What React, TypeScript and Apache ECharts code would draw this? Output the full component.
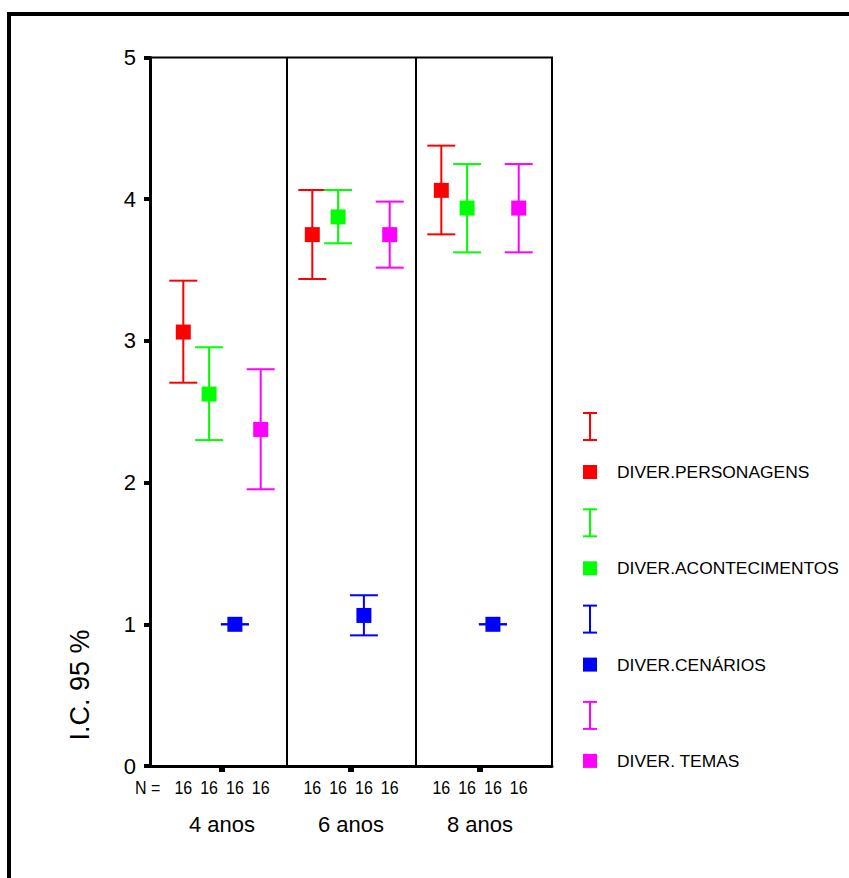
import React, { useEffect, useRef } from "react";
import * as echarts from "echarts";

// ---- data ----
const categories = ["4 anos", "6 anos", "8 anos"];
const groupPositions = [1, 2, 3];
const dividers = [1.5, 2.5];
const seriesNames = ["DIVER.PERSONAGENS", "DIVER.ACONTECIMENTOS", "DIVER.CENÁRIOS", "DIVER. TEMAS"];
const seriesColors = ["#ff0000", "#00ff00", "#0000ff", "#ff00ff"];
const seriesOffsets = [-0.3, -0.1, 0.1, 0.3];

const meanPersonagens = [3.0625, 3.75, 4.0625];
const lowPersonagens = [2.705, 3.437, 3.752];
const highPersonagens = [3.425, 4.065, 4.378];

const meanAcontecimentos = [2.625, 3.875, 3.9375];
const lowAcontecimentos = [2.3, 3.689, 3.625];
const highAcontecimentos = [2.955, 4.065, 4.248];

const meanCenarios = [1.0, 1.0625, 1.0];
const lowCenarios = [1.0, 0.922, 1.0];
const highCenarios = [1.0, 1.205, 1.0];

const meanTemas = [2.375, 3.75, 3.9375];
const lowTemas = [1.953, 3.517, 3.625];
const highTemas = [2.8, 3.983, 4.248];

const nPersonagens = [16, 16, 16];
const nAcontecimentos = [16, 16, 16];
const nCenarios = [16, 16, 16];
const nTemas = [16, 16, 16];

const yTicks = [0, 1, 2, 3, 4, 5];
const yAxisTitle = "I.C. 95 %";
const nPrefix = "N =";

const means = [meanPersonagens, meanAcontecimentos, meanCenarios, meanTemas];
const lows = [lowPersonagens, lowAcontecimentos, lowCenarios, lowTemas];
const highs = [highPersonagens, highAcontecimentos, highCenarios, highTemas];
const counts = [nPersonagens, nAcontecimentos, nCenarios, nTemas];

const FONT = '"Liberation Sans", Arial, sans-serif';

export default function App() {
  const ref = useRef<HTMLDivElement>(null);

  useEffect(() => {
    if (!ref.current) return;
    const chart = echarts.init(ref.current, null, { renderer: "svg" });

    const errorSeries = seriesNames.map((name, s) => ({
      type: "custom",
      name: name + " IC",
      clip: false,
      z: 3,
      encode: { x: 0, y: [1, 2] },
      data: groupPositions.map((g, i) => [g + seriesOffsets[s], lows[s][i], highs[s][i]]),
      renderItem: (params: any, api: any) => {
        const x = api.value(0);
        const lo = api.coord([x, api.value(1)]);
        const hi = api.coord([x, api.value(2)]);
        const hw = 14;
        const st = { stroke: seriesColors[s], lineWidth: 2 };
        return {
          type: "group",
          children: [
            { type: "line", shape: { x1: hi[0], y1: hi[1], x2: lo[0], y2: lo[1] }, style: st },
            { type: "line", shape: { x1: hi[0] - hw, y1: hi[1], x2: hi[0] + hw, y2: hi[1] }, style: st },
            { type: "line", shape: { x1: lo[0] - hw, y1: lo[1], x2: lo[0] + hw, y2: lo[1] }, style: st },
          ],
        };
      },
    }));

    const meanSeries = seriesNames.map((name, s) => ({
      type: "scatter",
      name,
      z: 4,
      symbol: "rect",
      symbolSize: 15,
      itemStyle: { color: seriesColors[s], opacity: 1 },
      data: groupPositions.map((g, i) => [g + seriesOffsets[s], means[s][i]]),
      ...(s === 0
        ? {
            markLine: {
              silent: true,
              symbol: ["none", "none"],
              label: { show: false },
              lineStyle: { color: "#000", width: 2, type: "solid" },
              data: dividers.map((v) => ({ xAxis: v })),
            },
          }
        : {}),
    }));

    const nData: any[] = [];
    seriesNames.forEach((_, s) => {
      groupPositions.forEach((g, i) => {
        nData.push([g + seriesOffsets[s], 0, counts[s][i]]);
      });
    });

    const nSeries = {
      type: "custom",
      name: "N",
      clip: false,
      silent: true,
      encode: { x: 0, y: 1 },
      data: nData,
      renderItem: (params: any, api: any) => {
        const p = api.coord([api.value(0), api.value(1)]);
        return {
          type: "text",
          x: p[0],
          y: p[1] + 22,
          scaleY: 1.15,
          style: {
            text: String(api.value(2)),
            fontSize: 16,
            fontFamily: FONT,
            fill: "#000",
            align: "center",
            verticalAlign: "middle",
          },
        };
      },
    };

    const legendGraphics: any[] = [];
    seriesNames.forEach((name, s) => {
      const top = 413 + s * 96.3;
      const st = { stroke: seriesColors[s], lineWidth: 2 };
      legendGraphics.push(
        { type: "line", shape: { x1: 590, y1: top, x2: 590, y2: top + 27 }, style: st },
        { type: "line", shape: { x1: 583, y1: top, x2: 597, y2: top }, style: st },
        { type: "line", shape: { x1: 583, y1: top + 27, x2: 597, y2: top + 27 }, style: st },
        { type: "rect", shape: { x: 583, y: top + 52, width: 14, height: 14 }, style: { fill: seriesColors[s] } },
        {
          type: "text",
          x: 617,
          y: top + 59,
          style: { text: name, fontSize: 17.4, fontFamily: FONT, fill: "#000", align: "left", verticalAlign: "middle" },
        }
      );
    });

    chart.setOption({
      animation: false,
      backgroundColor: "#fff",
      grid: {
        left: 150,
        right: 297,
        top: 57.5,
        bottom: 112,
        show: true,
        borderColor: "#000",
        borderWidth: 2,
        backgroundColor: "transparent",
      },
      xAxis: {
        type: "value",
        min: 0.442,
        max: 3.558,
        splitLine: { show: false },
        axisLine: { show: true, onZero: false, lineStyle: { color: "#000", width: 3 } },
        axisTick: { show: true, customValues: groupPositions, length: 6, lineStyle: { color: "#000", width: 6 } },
        axisLabel: {
          customValues: groupPositions,
          margin: 47,
          fontSize: 22,
          fontFamily: FONT,
          color: "#000",
          formatter: (v: number) => categories[Math.round(v) - 1] ?? "",
        },
      },
      yAxis: {
        type: "value",
        min: yTicks[0],
        max: yTicks[yTicks.length - 1],
        interval: 1,
        splitLine: { show: false },
        axisLine: { show: true, lineStyle: { color: "#000", width: 3 } },
        axisTick: { show: true, length: 6, lineStyle: { color: "#000", width: 4 } },
        axisLabel: { margin: 14, fontSize: 22, fontFamily: FONT, color: "#000" },
      },
      series: [...errorSeries, ...meanSeries, nSeries],
      graphic: [
        {
          type: "polyline",
          shape: { points: [[9, 950], [9, 14], [950, 14]] },
          style: { stroke: "#000", lineWidth: 4, fill: "none" },
        },
        {
          type: "text",
          x: 80,
          y: 685,
          rotation: Math.PI / 2,
          style: { text: yAxisTitle, fontSize: 27, fontFamily: FONT, fill: "#000", align: "center", verticalAlign: "middle" },
        },
        {
          type: "text",
          x: 135,
          y: 788,
          scaleY: 1.15,
          style: { text: nPrefix, fontSize: 16, fontFamily: FONT, fill: "#000", align: "left", verticalAlign: "middle" },
        },
        ...legendGraphics,
      ],
    });

    return () => chart.dispose();
  }, []);

  return (
    <div
      ref={ref}
      style={{ position: "fixed", left: 0, top: 0, width: 849, height: 878, background: "#fff" }}
    />
  );
}
